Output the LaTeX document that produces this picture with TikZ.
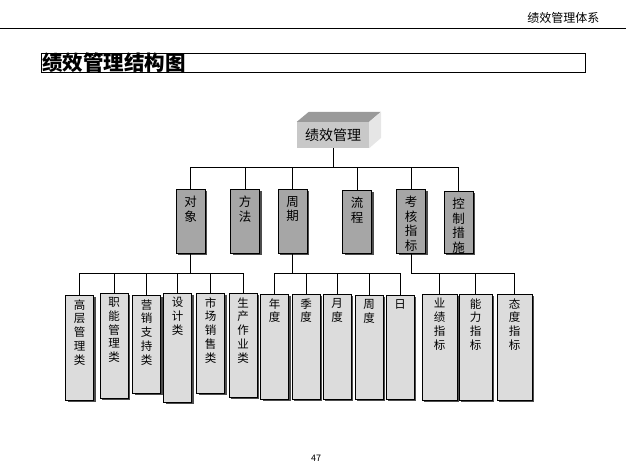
\documentclass[tikz,border=0pt]{standalone}
\usepackage{fontspec}
\newfontfamily\cjk{Noto Sans CJK SC}
\usepackage{xcolor}
\definecolor{boxDark}{HTML}{A6A6A6}
\definecolor{boxLight}{HTML}{DCDCDC}
\definecolor{cubeFront}{HTML}{C8C8C8}
\definecolor{cubeTop}{HTML}{9A9A9A}
\definecolor{cubeSide}{HTML}{E6E6E6}
\usetikzlibrary{shadows}

% vertical text, top aligned inside a box of fixed height
\newcommand{\vstack}[2]{\parbox[t][#1][t]{14pt}{\centering #2}}

\tikzset{
  conn/.style={draw=black, line width=0.9pt},
  lvtwo/.style={draw=black, line width=0.8pt, fill=boxDark, anchor=north,
    minimum width=29pt, inner xsep=0pt, inner ysep=7pt,
    font=\cjk\fontsize{12.5}{14.5}\selectfont,
    drop shadow={shadow xshift=2pt, shadow yshift=-2pt, fill=black!70, opacity=1}},
  lvthree/.style={draw=black, line width=0.8pt, fill=boxLight, anchor=north,
    minimum width=28pt, inner xsep=0pt, inner ysep=4pt,
    font=\cjk\fontsize{11.5}{13.8}\selectfont,
    drop shadow={shadow xshift=2pt, shadow yshift=-2pt, fill=black!70, opacity=1}},
  rootface/.style={fill=cubeFront, minimum width=72pt, minimum height=26pt,
    inner sep=0pt, font=\cjk\fontsize{14}{15}\selectfont},
}

\begin{document}
\begin{tikzpicture}[x=1pt,y=-1pt]
  \useasboundingbox (0,0) rectangle (626,466);

  % page head
  \node[anchor=east, font=\cjk\fontsize{12}{13}\selectfont] (hdr) at (603,18) {绩效管理体系};
  \draw[line width=1pt] (0,28) -- (626,28);
  \draw[line width=1pt] (41,53) rectangle (585,72);
  \node[anchor=west, inner sep=0pt, font=\cjk\bfseries\fontsize{20.5}{22}\selectfont] (title) at (42,62.5) {绩效管理结构图};

  % root cube
  \node[rootface] (root) at (333,135) {绩效管理};
  \fill[cubeTop] (root.north west) -- ++(12,-10) -- ++(72,0) -- (root.north east) -- cycle;
  \fill[cubeSide] (root.north east) -- ++(12,-10) -- ++(0,26) -- (root.south east) -- cycle;

  % second level
  \node[lvtwo] (dx) at (190.5,189) {\vstack{50pt}{对\\象}};
  \node[lvtwo] (ff) at (245,189) {\vstack{50pt}{方\\法}};
  \node[lvtwo] (zq) at (292.5,189) {\vstack{50pt}{周\\期}};
  \node[lvtwo] (lc) at (357,190) {\vstack{49pt}{流\\程}};
  \node[lvtwo] (kh) at (411,189) {\vstack{50pt}{考\\核\\指\\标}};
  \node[lvtwo] (kz) at (458.5,191) {\vstack{48pt}{控\\制\\措\\施}};

  % third level
  \node[lvthree] (gc) at (79.5,295) {\vstack{97pt}{高\\层\\管\\理\\类}};
  \node[lvthree] (zn) at (114,293) {\vstack{97pt}{职\\能\\管\\理\\类}};
  \node[lvthree] (yx) at (146.5,295) {\vstack{90pt}{营\\销\\支\\持\\类}};
  \node[lvthree] (sj) at (177.5,293) {\vstack{101pt}{设\\计\\类}};
  \node[lvthree] (sc) at (210.5,293) {\vstack{92pt}{市\\场\\销\\售\\类}};
  \node[lvthree] (sd) at (243,293) {\vstack{96pt}{生\\产\\作\\业\\类}};
  \node[lvthree] (nd) at (274.5,294) {\vstack{97pt}{年\\度}};
  \node[lvthree] (jd) at (306,294) {\vstack{97pt}{季\\度}};
  \node[lvthree] (yd) at (337,294) {\vstack{97pt}{月\\度}};
  \node[lvthree] (zd) at (369,295) {\vstack{96pt}{周\\度}};
  \node[lvthree] (ri) at (400,295) {\vstack{96pt}{日}};
  \node[lvthree, minimum width=35pt] (yj) at (439.5,294) {\vstack{98pt}{业\\绩\\指\\标}};
  \node[lvthree, minimum width=33pt] (nl) at (475.5,294) {\vstack{98pt}{能\\力\\指\\标}};
  \node[lvthree, minimum width=35pt] (td) at (514.5,294) {\vstack{98pt}{态\\度\\指\\标}};

  % connectors
  \draw[conn] (root.south) -- ++(0,19) -| (dx.north);
  \draw[conn] (root.south) -- ++(0,19) -| (ff.north);
  \draw[conn] (root.south) -- ++(0,19) -| (zq.north);
  \draw[conn] (root.south) -- ++(0,19) -| (lc.north);
  \draw[conn] (root.south) -- ++(0,19) -| (kh.north);
  \draw[conn] (root.south) -- ++(0,19) -| (kz.north);

  \draw[conn] (dx.south) -- ++(0,20) -| (gc.north);
  \draw[conn] (dx.south) -- ++(0,20) -| (zn.north);
  \draw[conn] (dx.south) -- ++(0,20) -| (yx.north);
  \draw[conn] (dx.south) -- ++(0,20) -| (sj.north);
  \draw[conn] (dx.south) -- ++(0,20) -| (sc.north);
  \draw[conn] (dx.south) -- ++(0,20) -| (sd.north);

  \draw[conn] (zq.south) -- ++(0,20) -| (nd.north);
  \draw[conn] (zq.south) -- ++(0,20) -| (jd.north);
  \draw[conn] (zq.south) -- ++(0,20) -| (yd.north);
  \draw[conn] (zq.south) -- ++(0,20) -| (zd.north);
  \draw[conn] (zq.south) -- ++(0,20) -| (ri.north);

  \draw[conn] (kh.south) -- ++(0,20) -| (yj.north);
  \draw[conn] (kh.south) -- ++(0,20) -| (nl.north);
  \draw[conn] (kh.south) -- ++(0,20) -| (td.north);

  \node[font=\cjk\fontsize{9}{10}\selectfont] (pg) at (316,458) {47};
\end{tikzpicture}
\end{document}
